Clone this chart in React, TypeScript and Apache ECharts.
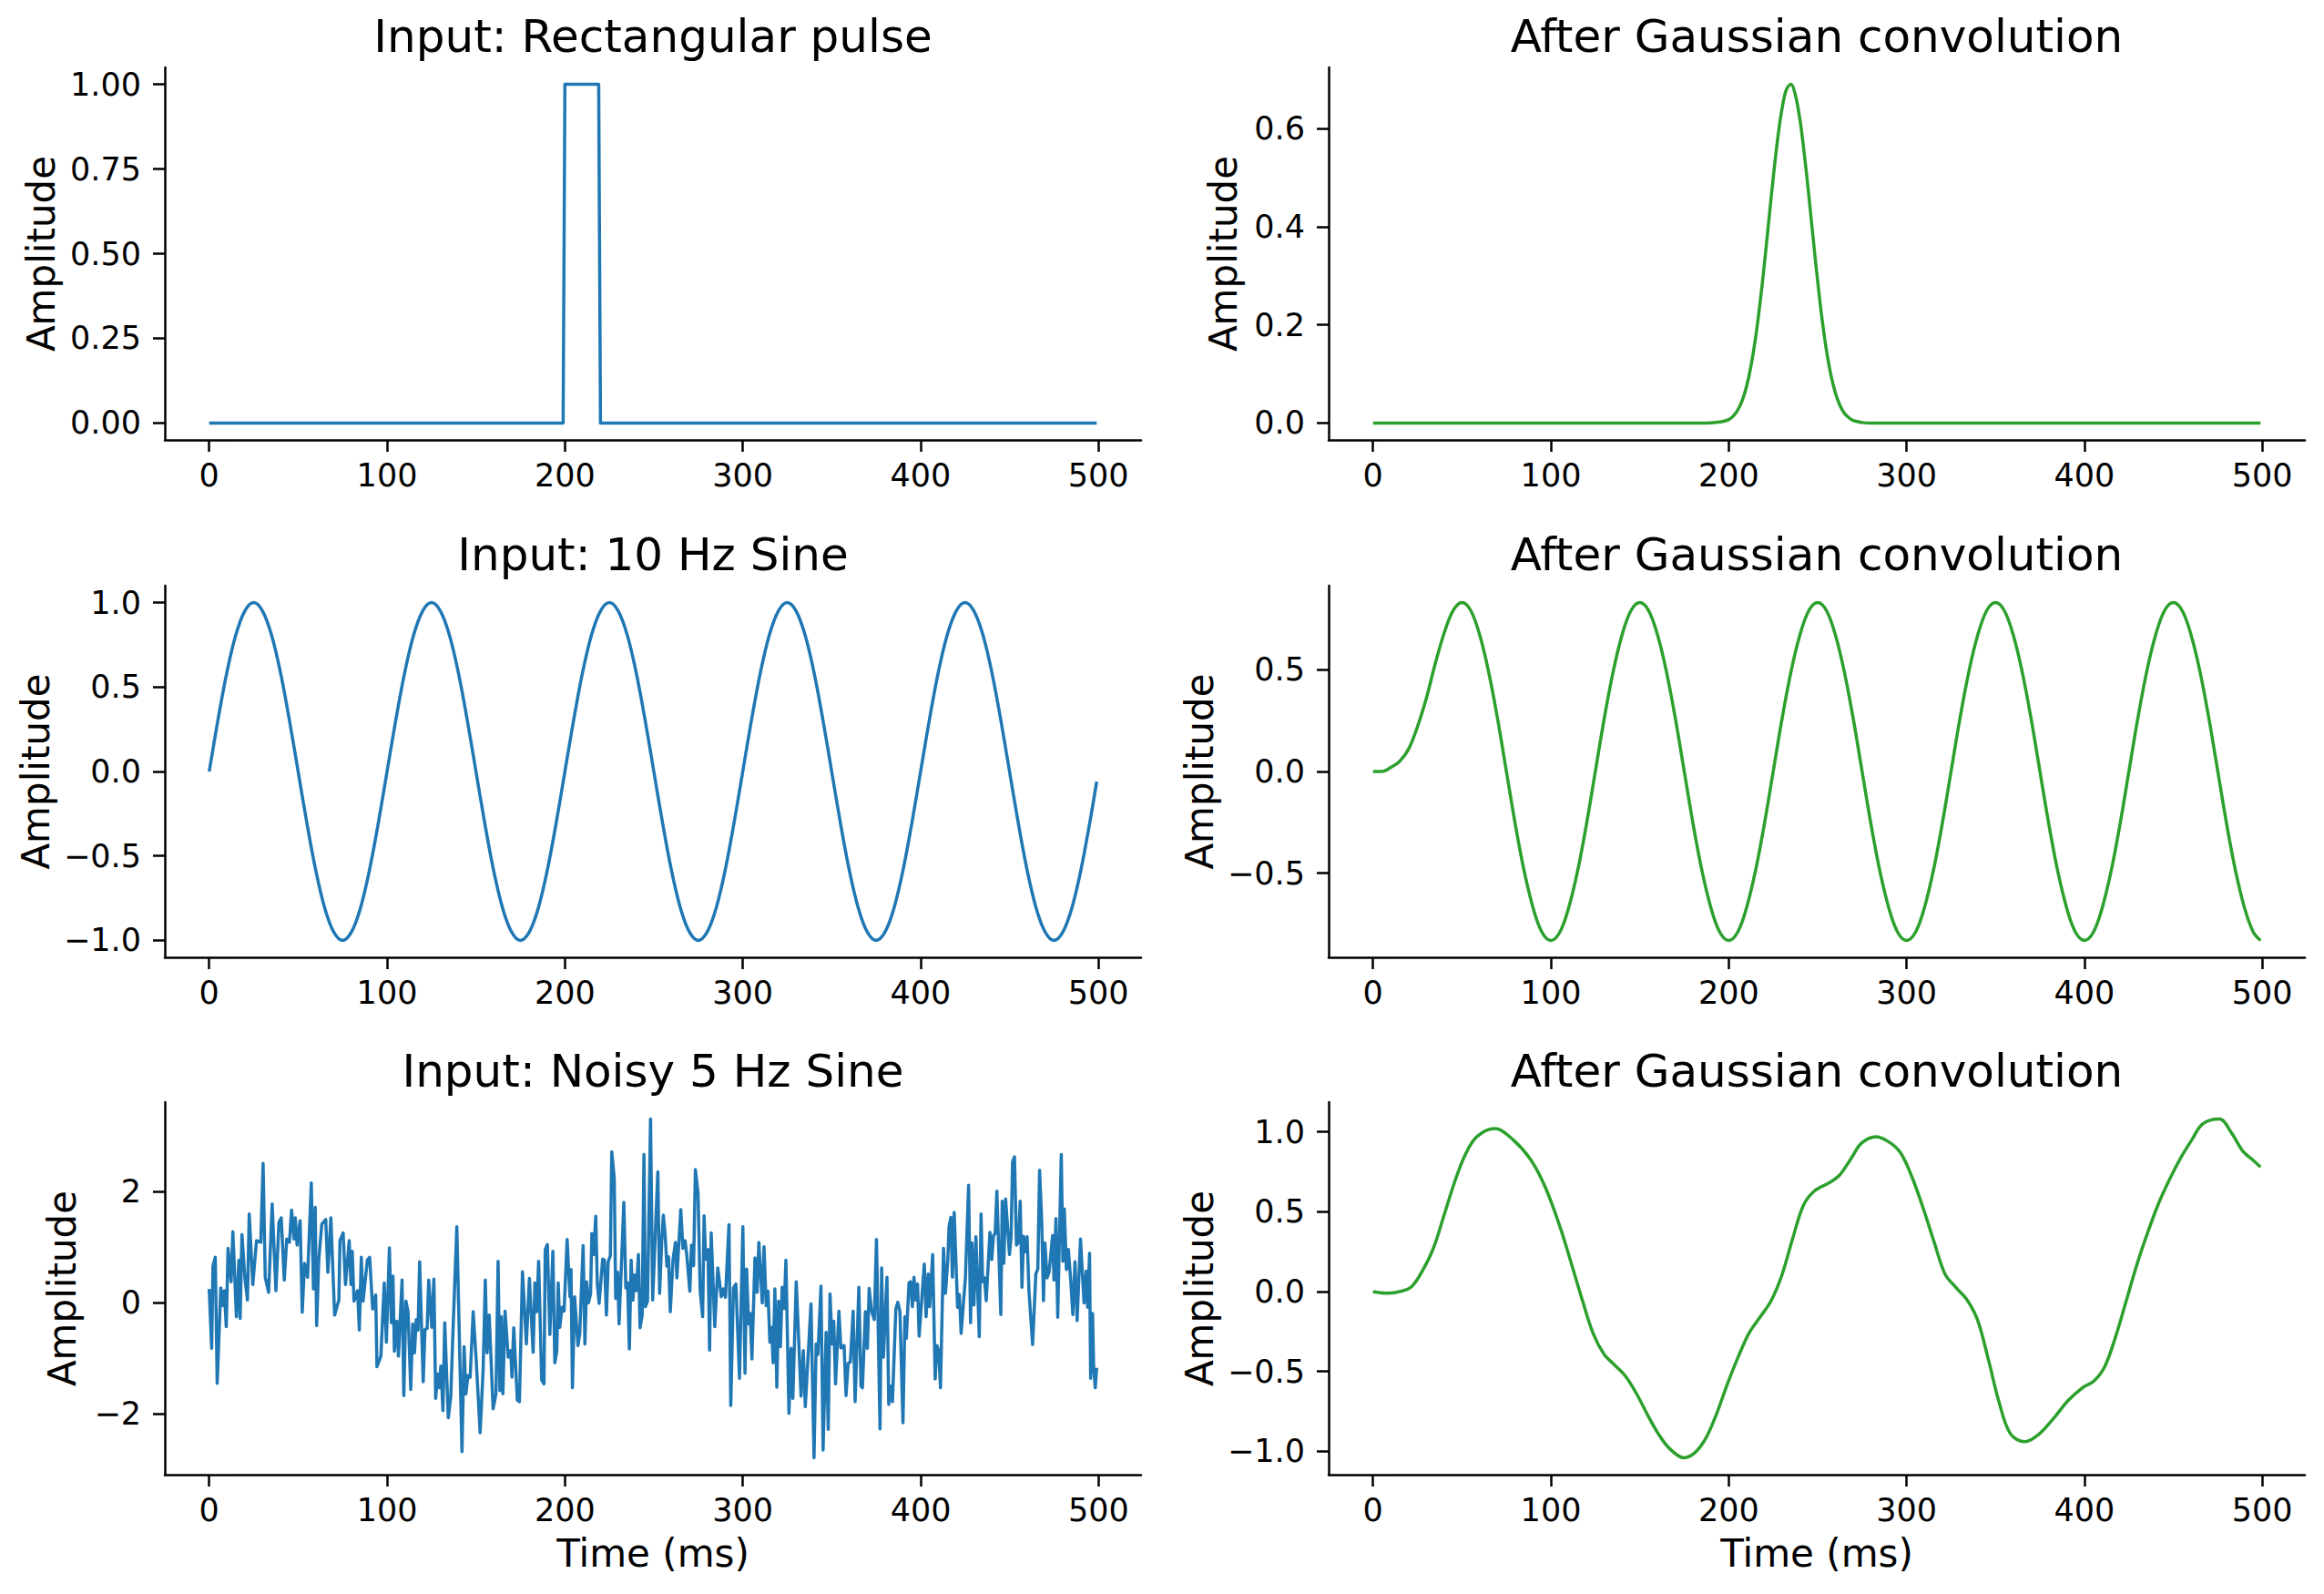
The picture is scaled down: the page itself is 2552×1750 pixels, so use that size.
import { useEffect, useRef } from 'react';
import * as echarts from 'echarts';

// ---------- data ----------
const timeTicks = [0, 100, 200, 300, 400, 500];

// Rectangular pulse input
const pulseTime = [0, 199, 200, 219, 220, 499];
const pulseAmp = [0, 0, 1, 1, 0, 0];
const pulseTicks = [0, 0.25, 0.5, 0.75, 1];

// Pulse after Gaussian convolution
const pulseSmoothTime = [
  0, 185, 190, 195, 197.5, 200, 202.5, 205, 207.5, 210,
  212.5, 215, 217.5, 220, 222.5, 225, 227.5, 230, 232.5, 235,
  237.5, 240, 242.5, 245, 247.5, 250, 252.5, 255, 257.5, 260,
  262.5, 265, 267.5, 270, 272.5, 275, 280, 285, 499,
];
const pulseSmoothAmp = [
  0, 0, 0.0005, 0.002, 0.004, 0.007, 0.014, 0.026, 0.045, 0.074,
  0.116, 0.171, 0.241, 0.322, 0.411, 0.499, 0.579, 0.641, 0.68, 0.69,
  0.668, 0.619, 0.548, 0.465, 0.375, 0.289, 0.211, 0.147, 0.097, 0.061,
  0.036, 0.02, 0.011, 0.005, 0.003, 0.001, 0, 0, 0,
];
const pulseSmoothTicks = [0, 0.2, 0.4, 0.6];

// 10 Hz sine input and its smoothed version (same sample times)
const sineTime = [
  0, 5, 10, 15, 20, 25, 30, 35, 40, 45, 50, 55, 60, 65, 70, 75, 80, 85, 90, 95,
  100, 105, 110, 115, 120, 125, 130, 135, 140, 145, 150, 155, 160, 165, 170, 175, 180, 185, 190, 195,
  200, 205, 210, 215, 220, 225, 230, 235, 240, 245, 250, 255, 260, 265, 270, 275, 280, 285, 290, 295,
  300, 305, 310, 315, 320, 325, 330, 335, 340, 345, 350, 355, 360, 365, 370, 375, 380, 385, 390, 395,
  400, 405, 410, 415, 420, 425, 430, 435, 440, 445, 450, 455, 460, 465, 470, 475, 480, 485, 490, 495,
  499,
];
const sineAmp = [
  0, 0.31, 0.59, 0.81, 0.95, 1, 0.95, 0.81, 0.59, 0.31, 0, -0.31, -0.59, -0.81, -0.95, -1, -0.95, -0.81, -0.59, -0.31,
  0, 0.31, 0.59, 0.81, 0.95, 1, 0.95, 0.81, 0.59, 0.31, 0, -0.31, -0.59, -0.81, -0.95, -1, -0.95, -0.81, -0.59, -0.31,
  0, 0.31, 0.59, 0.81, 0.95, 1, 0.95, 0.81, 0.59, 0.31, 0, -0.31, -0.59, -0.81, -0.95, -1, -0.95, -0.81, -0.59, -0.31,
  0, 0.31, 0.59, 0.81, 0.95, 1, 0.95, 0.81, 0.59, 0.31, 0, -0.31, -0.59, -0.81, -0.95, -1, -0.95, -0.81, -0.59, -0.31,
  0, 0.31, 0.59, 0.81, 0.95, 1, 0.95, 0.81, 0.59, 0.31, 0, -0.31, -0.59, -0.81, -0.95, -1, -0.95, -0.81, -0.59, -0.31,
  -0.06,
];
const sineTicks = [-1, -0.5, 0, 0.5, 1];
const sineSmoothAmp = [
  0, 0, 0.02, 0.05, 0.11, 0.22, 0.36, 0.53, 0.68, 0.79, 0.83, 0.79, 0.67, 0.49, 0.26, 0, -0.26, -0.49, -0.67, -0.79,
  -0.83, -0.79, -0.67, -0.49, -0.26, 0, 0.26, 0.49, 0.67, 0.79, 0.83, 0.79, 0.67, 0.49, 0.26, 0, -0.26, -0.49, -0.67, -0.79,
  -0.83, -0.79, -0.67, -0.49, -0.26, 0, 0.26, 0.49, 0.67, 0.79, 0.83, 0.79, 0.67, 0.49, 0.26, 0, -0.26, -0.49, -0.67, -0.79,
  -0.83, -0.79, -0.67, -0.49, -0.26, 0, 0.26, 0.49, 0.67, 0.79, 0.83, 0.79, 0.67, 0.49, 0.26, 0, -0.26, -0.49, -0.67, -0.79,
  -0.83, -0.79, -0.67, -0.49, -0.26, 0, 0.26, 0.49, 0.67, 0.79, 0.83, 0.79, 0.67, 0.49, 0.26, 0, -0.26, -0.49, -0.67, -0.79,
  -0.83,
];
const sineSmoothTicks = [-0.5, 0, 0.5];

// Noisy 5 Hz sine input
const noisyTime = [
  0, 1.4, 2.1, 3.4, 4.5, 6.5, 7.7, 8.5, 9.6, 10.6, 12.3, 13.3, 15.3, 16.7, 17.4, 18.4, 20.1, 21.5, 22.5, 24.5,
  26.6, 29, 30.3, 31.5, 33.4, 35.4, 37.5, 39.2, 40.5, 42.2, 43.6, 45.1, 46.3, 47.7, 48.4, 49.4, 51.1, 52.3, 53.6, 55.3,
  57.4, 58.6, 59.6, 60.4, 61.6, 63.3, 65.5, 66.7, 68.4, 70.5, 72.9, 73.5, 75.3, 76.6, 78.7, 79.7, 80.4, 81.4, 83.4, 84.4,
  85.5, 86.5, 88.9, 90.2, 91.9, 93.6, 94.3, 96.5, 98.4, 99.6,
  101.3, 102.4, 103.3, 104.1, 105.5, 106.4, 108.4, 109.4, 110.6, 111.8, 113.3, 114.4, 115.4, 116.4, 117.4, 118.3, 120.3, 121.3, 122.5, 123.4,
  125.1, 126.3, 127.3, 128.5, 129.3, 130.2, 131.4, 132.4, 134.4, 135.8, 137, 139.2, 142.1, 143.3, 144.3, 145.5, 146.7, 148.4, 150.1, 152.3,
  154, 155.2, 156.2, 157.4, 159.6, 161.2, 162.4, 163.4, 164.2, 165.1, 166.3, 168.1, 169.5, 170.2, 171.2, 173.2, 174.4, 176.1, 178.3, 180,
  182.1, 183.1, 184.1, 185.2, 186.9, 188.2, 188.9, 190.1, 191.5, 193.2, 194.3, 195.4, 196.2, 197.1, 198.3, 199.5, 201.2, 202.8,
  203.4, 204.2, 205.4, 207.3, 208.3, 210.2, 211.2, 212.2, 213.2, 214.4, 215.1, 216.1, 217.3, 218.2, 219.2, 221.2, 222.2, 223.3, 224.3, 225.5,
  226.3, 227.7, 228.5, 229.6, 230.4, 233.1, 234.2, 235.2, 236.2, 237.2, 238.2, 239.1, 240.1, 241.3, 242.2, 243.4, 244.4, 245.2, 246.4, 248.1,
  249.3, 251, 252.2, 253.2, 254.4, 255.3, 256.3, 257.3, 258.2, 259.2, 260.7, 262.1, 262.9, 265.1, 266.3, 267.5, 268.5, 270.2, 271.1, 272.3,
  273.3, 274.8, 276, 277.4, 278.2, 279.1, 280.4, 281.3, 282.2, 284.2, 285.9, 287.9, 289, 290.2, 292.2, 293.2, 294.7, 296.1, 298.1, 300,
  301.2, 302.1,
  303.2, 304.1, 305.1, 306.8, 308, 309, 310.9, 311.9, 313.1, 314.1, 315.2, 316.2, 317, 318, 319.1, 320.1, 321.1, 322.1, 323.2, 324.2,
  325.9, 327.1, 328.1, 330, 332.7, 334, 335.1, 338.3, 340, 341.2, 342.2, 343.9, 345.1, 346.8, 348, 349, 350.2, 351.1, 352.1, 354,
  355.1, 356.9, 358, 359.2, 360.4, 362, 363.1, 365.2, 366.4, 367.2, 368.9, 370, 371, 372.3, 373.9, 375.1, 375.9, 377.1, 378, 379,
  381, 382, 383.1, 384.1, 386, 387.1, 388.3, 390, 391.1, 391.9, 393.4, 394.3, 395.3, 396.2, 397.2, 398.2, 399.1, 402, 403, 404.2,
  405, 406.7,
  408.1, 409.1, 410.1, 411.1, 412.8, 413.9, 415.2, 415.9, 416.9, 417.8, 418.8, 420.7, 421.7, 422.7, 425.1, 426.9, 428, 428.8, 429.9, 431,
  432.9, 433.9, 434.8, 435.8, 436.8, 438.9, 439.9, 440.9, 441.8, 442.8, 445, 445.8, 446.7, 447.7, 449.9, 450.8, 451.6, 452.7, 453.8, 454.9,
  455.9, 456.9, 457.8, 458.8, 459.8, 460.8, 462.9, 464.7, 465.8, 466.8, 468, 469, 469.8, 471, 472.1, 473.1, 474.1, 474.9, 476, 477,
  479, 479.9, 480.7, 481.9, 483, 484.3, 485.5, 486.7, 487.9, 489.8, 491.8, 493, 493.8, 494.9, 495.5, 496.6, 497.2, 498.1, 498.9,
];
const noisyAmp = [
  0.25, -0.82, 0.66, 0.82, -1.45, 0.27, -0.05, 0.22, -0.43, 0.98, 0.38, 1.28, -0.25, 0.77, -0.28, 1.23, 0.44, 0.05, 1.6, 0.33,
  1.12, 1.09, 2.51, 0.46, 0.19, 1.78, 0.22, 1.45, 1.53, 0.41, 1.15, 1.09, 1.67, 1.15, 1.53, 1.04, 1.48, -0.17, 0.71, 0.46,
  2.16, 0.25, 1.72, -0.41, 0.77, 1.42, 1.5, 0.55, 1.53, -0.22, 0.05, 1.12, 1.26, 0.33, 1.12, 0.33, 0.93, 0.03, 0.22, -0.49,
  0.82, 0.03, 0.77, 0.82, -0.11, 0.14, -1.15, -0.96, 0.36, -0.71,
  0.99, -0.36, 0.48, -0.87, -0.33, -0.96, 0.41, -1.67, 0.03, -0.16, -1.56, -0.38, -0.9, -0.3, -0.49, 0.74, -1.42, -0.48, -0.46, 0.41,
  -0.44, 0.43, -1.72, -1.28, -1.53, -1.14, -1.94, -0.36, -2.07, -1.69, -0.55, 1.37, -2.68, -0.79, -1.64, -1.31, -1.34, -0.16, -1.04, -2.34,
  -1.2, 0.41, -0.9, -0.22, -1.91, -1.64, 0.75, -1.58, -0.25, -1.64, -0.15, -0.98, -0.86, -1.34, -0.45, -1.75, -1.78, 0.56, -0.74, 0.44,
  -0.89, 0.36, -0.16, 0.75, -1.39, -1.46, 0.96, 1.05, -0.57, 0.93, -1.08, -0.87, 0.36, -0.44, -0.08, -0.15, 1.14, 0.11,
  0.6, -1.53, 0.11, -0.77, -0.55, 1.03, -0.74, 0.38, 0, 0.16, 1.25, 0.87, 1.56, 0.33, -0.01, 0.79, 0.77, -0.22, 0.74, 0.85,
  2.72, 2.24, 0.08, 0.55, -0.38, 1.81, 0.27, 0.36, -0.83, 0.77, 0.05, 0.5, 0.22, 0.87, -0.45, -0.22, 2.67, -0.07, 0.03, 3.31,
  0.05, 1.42, 2.36, 0.17, 1.12, 1.58, 1.23, 0.66, 0.83, -0.16, 0.77, 1.09, 0.45, 1.68, 0.98, 1.12, 0.85, 0.21, 1.04, 0.67,
  2.4, 1.97, 0.22, -0.25, 1.57, 0.79, 0.96, -0.85, 1.26, -0.43, 0.63, 0.11, 0.25, 0.1, 1.41, -1.85, 0.27, 0.34, -1.36, 1.37,
  -1.27, 0.61,
  -0.38, -0.19, -1.01, 0.81, 0.19, 1.09, 0, 1.01, -0.05, 0.21, -0.71, -0.44, -1.08, 0.25, -1.52, 0.03, -0.79, 0.28, -0.1, 0.77,
  -1.99, -0.82, -1.72, 0.38, -1.68, -0.86, -1.87, -0.02, -2.79, -0.74, -0.93, 0.3, -2.65, -0.53, -2.28, 0.16, -0.74, -0.33, -1.46, -0.15,
  -0.81, -0.77, -1.67, -1.09, -1.07, -0.15, -1.78, 0.28, -1.5, -1.53, -0.16, -0.82, 0.26, -0.14, -0.3, 1.14, -0.16, -2.27, 0.63, -0.98,
  0.46, -1.83, -1.5, -1.78, -0.11, 0.01, -0.16, -2.16, -0.25, -0.64, 0.36, 0.38, -0.07, 0.46, 0.05, 0.34, -0.6, 0.7, -0.25, 0.52,
  -0.07, 0.87,
  -1.37, -0.77, -0.87, -1.53, 0.98, 0.17, 0.77, 1.37, 1.54, 0.46, 1.63, -0.08, 0.15, -0.55, 0.45, 2.12, -0.36, 1.08, -0.04, 1.19,
  -0.61, 1.6, 0.38, 0.45, 0.04, 1.27, 0.78, 1.21, 1.25, 2.01, -0.21, 1.83, 0.71, 1.87, 0.87, 1.2, 2.54, 2.63, 1.04, 1.09,
  1.83, 0.28, 1.2, 0.92, 1.19, 0.23, -0.75, 0.52, 0.61, 2.39, 1.48, 0.04, 1.08, 0.45, 0.55, 0.87, 1.21, 0.41, 1.52, -0.26,
  2.67, 0.75, 1.69, 0.6, 0.96, 0.41, -0.21, 0.74, -0.32, 1.15, 0, 0.57, -0.08, 0.89, -1.36, -0.19, -1.17, -1.53, -1.17,
];
const noisyTicks = [-2, 0, 2];

// Noisy sine after Gaussian convolution
const noisySmoothTime = [
  0, 7, 15, 21.6, 27.8, 33.9, 40, 46, 52, 58.4, 68.6, 78.8, 89, 97, 105.3, 111.4, 117.6, 123.7, 129.8, 135.9,
  142, 148.2, 154.3, 160.4, 166.5, 174.7, 180.8, 187, 193, 199.2, 205.3, 211.4, 217.6, 223.7, 229.8, 235.9, 242, 248.2, 256.3, 262.4,
  268.6, 274.7, 282.9, 291, 297.1, 303.3, 309.4, 315.5, 321.6, 327.8, 333.9, 340, 346.1, 352.2, 358.4, 366.5, 374.7, 382.9, 391, 399.2,
  405.3, 411.4, 417.6, 423.7, 429.8, 435.9, 442, 448.2, 454.3, 460.4, 466.5, 475.9, 482.9, 489, 495.1, 499,
];
const noisySmoothAmp = [
  0, -0.01, 0, 0.03, 0.13, 0.27, 0.48, 0.69, 0.86, 0.97, 1.02, 0.95, 0.82, 0.65, 0.4, 0.18, -0.05, -0.26, -0.39, -0.46,
  -0.53, -0.64, -0.77, -0.89, -0.98, -1.04, -1.01, -0.92, -0.77, -0.58, -0.41, -0.26, -0.16, -0.06, 0.1, 0.33, 0.54, 0.63, 0.68, 0.73,
  0.83, 0.93, 0.97, 0.93, 0.86, 0.71, 0.52, 0.31, 0.11, 0.025, -0.05, -0.18, -0.43, -0.7, -0.89, -0.94, -0.89, -0.79, -0.68, -0.6,
  -0.56, -0.47, -0.28, -0.05, 0.18, 0.38, 0.56, 0.71, 0.84, 0.95, 1.05, 1.08, 0.99, 0.88, 0.82, 0.78,
];
const noisySmoothTicks = [-1, -0.5, 0, 0.5, 1];

// ---------- layout & style ----------
const FONT = 'DejaVu Sans';
const BLUE = '#1f77b4';
const GREEN = '#2ca02c';
const COL_X = [181, 1459];
const COL_W = [1072, 1072];
const ROW_Y = [74, 643, 1210];
const ROW_H = [409, 408, 409];

type Panel = {
  title: string;
  time: number[];
  amp: number[];
  ticks: number[];
  digits: number;
  color: string;
  smooth: boolean;
  row: number;
  col: number;
  nameGap: number;
};

const panels: Panel[] = [
  { title: 'Input: Rectangular pulse', time: pulseTime, amp: pulseAmp, ticks: pulseTicks, digits: 2, color: BLUE, smooth: false, row: 0, col: 0, nameGap: 115 },
  { title: 'After Gaussian convolution', time: pulseSmoothTime, amp: pulseSmoothAmp, ticks: pulseSmoothTicks, digits: 1, color: GREEN, smooth: true, row: 0, col: 1, nameGap: 95 },
  { title: 'Input: 10 Hz Sine', time: sineTime, amp: sineAmp, ticks: sineTicks, digits: 1, color: BLUE, smooth: true, row: 1, col: 0, nameGap: 121 },
  { title: 'After Gaussian convolution', time: sineTime, amp: sineSmoothAmp, ticks: sineSmoothTicks, digits: 1, color: GREEN, smooth: true, row: 1, col: 1, nameGap: 121 },
  { title: 'Input: Noisy 5 Hz Sine', time: noisyTime, amp: noisyAmp, ticks: noisyTicks, digits: 0, color: BLUE, smooth: false, row: 2, col: 0, nameGap: 92 },
  { title: 'After Gaussian convolution', time: noisySmoothTime, amp: noisySmoothAmp, ticks: noisySmoothTicks, digits: 1, color: GREEN, smooth: true, row: 2, col: 1, nameGap: 121 },
];

// 5 % padding on each side of the data range
function padded(vals: number[]): [number, number] {
  const lo = Math.min(...vals);
  const hi = Math.max(...vals);
  const m = (hi - lo) * 0.05;
  return [lo - m, hi + m];
}

function tickText(v: number, digits: number): string {
  const s = Math.abs(v).toFixed(digits);
  return v < -1e-9 ? '\u2212' + s : s;
}

function buildOption() {
  const axisLine = { show: true, onZero: false, lineStyle: { color: '#000', width: 2.5 } };
  const axisTickBase = { show: true, length: 13, inside: false, lineStyle: { color: '#000', width: 2.5 } };
  const labelBase = { color: '#000', fontFamily: FONT, fontSize: 35 };
  const nameStyle = { color: '#000', fontFamily: FONT, fontSize: 42 };

  const grid = panels.map((p) => ({
    left: COL_X[p.col],
    top: ROW_Y[p.row],
    width: COL_W[p.col],
    height: ROW_H[p.row],
    containLabel: false,
    outerBoundsMode: 'none',
  }));

  const title = panels.map((p) => ({
    text: p.title,
    left: COL_X[p.col] + COL_W[p.col] / 2,
    top: ROW_Y[p.row] - 59,
    textAlign: 'center',
    padding: 0,
    textStyle: { color: '#000', fontFamily: FONT, fontSize: 50, fontWeight: 'normal' },
  }));

  const xAxis = panels.map((p, i) => {
    const [lo, hi] = padded(p.time);
    return {
      type: 'value',
      gridIndex: i,
      min: lo,
      max: hi,
      axisLine,
      axisTick: { ...axisTickBase, customValues: timeTicks },
      axisLabel: { ...labelBase, margin: 21, customValues: timeTicks, formatter: (v: number) => String(Math.round(v)) },
      splitLine: { show: false },
      name: p.row === 2 ? 'Time (ms)' : '',
      nameLocation: 'middle',
      nameGap: 65,
      nameTextStyle: nameStyle,
    };
  });

  const yAxis = panels.map((p, i) => {
    const [lo, hi] = padded(p.amp);
    return {
      type: 'value',
      gridIndex: i,
      min: lo,
      max: hi,
      axisLine,
      axisTick: { ...axisTickBase, customValues: p.ticks },
      axisLabel: { ...labelBase, margin: 26, customValues: p.ticks, formatter: (v: number) => tickText(v, p.digits) },
      splitLine: { show: false },
      name: 'Amplitude',
      nameLocation: 'middle',
      nameRotate: 90,
      nameGap: p.nameGap,
      nameTextStyle: nameStyle,
    };
  });

  const series = panels.map((p, i) => ({
    type: 'line',
    xAxisIndex: i,
    yAxisIndex: i,
    data: p.time.map((t, k) => [t, p.amp[k]]),
    showSymbol: false,
    symbol: 'none',
    smooth: p.smooth ? 0.35 : false,
    lineStyle: { color: p.color, width: 3.5, join: 'round' },
    emphasis: { disabled: true },
    silent: true,
  }));

  return {
    animation: false,
    backgroundColor: '#fff',
    textStyle: { fontFamily: FONT },
    title,
    grid,
    xAxis,
    yAxis,
    series,
  };
}

export default function App() {
  const ref = useRef<HTMLDivElement>(null);

  useEffect(() => {
    document.body.style.margin = '0';
    const chart = echarts.init(ref.current!, undefined, { renderer: 'svg' });
    chart.setOption(buildOption() as any);
    return () => chart.dispose();
  }, []);

  return (
    <div
      ref={ref}
      style={{ position: 'absolute', left: 0, top: 0, width: 2552, height: 1750, background: '#fff' }}
    />
  );
}
